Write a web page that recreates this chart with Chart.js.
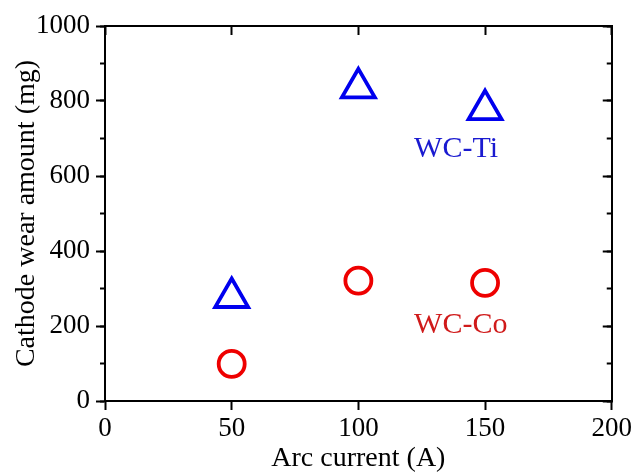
<!DOCTYPE html>
<html>
<head>
<meta charset="utf-8">
<script src="https://cdn.jsdelivr.net/npm/chart.js@4"></script>
<style>
  html, body { margin: 0; padding: 0; background: #fff; }
  #wrap { width: 635px; height: 475px; position: relative; }
</style>
</head>
<body>
<div id="wrap"><canvas id="c" width="635" height="475"></canvas></div>
<script>
// Data
const arcCurrent = [50, 100, 150];
const wcTiWear = [276, 835, 777];
const wcCoWear = [99, 321, 315];
const seriesNames = ['WC-Ti', 'WC-Co'];
// Annotation label anchors (data coordinates)
const labelX = [122, 122];
const labelY = [651, 181];

const xTicks = [0, 50, 100, 150, 200];
const yTicks = [0, 200, 400, 600, 800, 1000];

const FONT = '"Liberation Serif", "Times New Roman", serif';

const labelPlugin = {
  id: 'seriesLabels',
  afterDatasetsDraw(chart) {
    const ctx = chart.ctx;
    const xs = chart.scales.x, ys = chart.scales.y;
    const colors = ['#1a1ad0', '#d01a1a'];
    ctx.save();
    ctx.font = '30px ' + FONT;
    ctx.textAlign = 'left';
    ctx.textBaseline = 'alphabetic';
    seriesNames.forEach((n, i) => {
      ctx.fillStyle = colors[i];
      ctx.fillText(n, xs.getPixelForValue(labelX[i]), ys.getPixelForValue(labelY[i]));
    });
    ctx.restore();
  }
};

function fixW(w) { return s => { s.width = w; }; }
function fixH(h) { return s => { s.height = h; }; }

const borderOpt = { display: true, color: '#000', width: 2 };
const plain = v => String(v);

new Chart(document.getElementById('c'), {
  type: 'scatter',
  data: {
    datasets: [
      {
        label: seriesNames[0],
        data: arcCurrent.map((x, i) => ({ x, y: wcTiWear[i] })),
        pointStyle: 'triangle',
        pointRadius: 19,
        pointHoverRadius: 19,
        borderColor: '#0000ee',
        backgroundColor: 'rgba(255,255,255,0)',
        pointBorderWidth: 3.8,
        xAxisID: 'x', yAxisID: 'y'
      },
      {
        label: seriesNames[1],
        data: arcCurrent.map((x, i) => ({ x, y: wcCoWear[i] })),
        pointStyle: 'circle',
        pointRadius: 13,
        pointHoverRadius: 13,
        borderColor: '#ee0000',
        backgroundColor: 'rgba(255,255,255,0)',
        pointBorderWidth: 3.8,
        xAxisID: 'x', yAxisID: 'y'
      }
    ]
  },
  options: {
    responsive: false,
    animation: false,
    events: [],
    layout: { padding: { top: 26, right: 21, left: 0, bottom: 0 } },
    plugins: { legend: { display: false }, tooltip: { enabled: false } },
    scales: {
      x: {
        type: 'linear', position: 'bottom', min: 0, max: 200,
        afterBuildTicks: s => { s.ticks = xTicks.map(v => ({ value: v })); },
        afterFit: fixH(74),
        grid: { drawOnChartArea: false, drawTicks: true, tickLength: 9, tickWidth: 2, tickColor: '#000' },
        border: borderOpt,
        ticks: { color: '#000', padding: 3, font: { family: FONT, size: 27 }, maxRotation: 0, callback: plain },
        title: { display: true, text: 'Arc current (A)', color: '#000', font: { family: FONT, size: 28 }, padding: { top: 0, bottom: 0 } }
      },
      x2: {
        type: 'linear', position: 'top', min: 0, max: 200,
        afterBuildTicks: s => { s.ticks = xTicks.map(v => ({ value: v })); },
        afterFit: fixH(0),
        grid: { drawOnChartArea: false, drawTicks: true, tickLength: -9, tickWidth: 2, tickColor: '#000' },
        border: borderOpt,
        ticks: { display: false }
      },
      y: {
        type: 'linear', position: 'left', min: 0, max: 1000, weight: 1,
        afterBuildTicks: s => { s.ticks = yTicks.map(v => ({ value: v })); },
        afterFit: fixW(105),
        grid: { drawOnChartArea: false, drawTicks: true, tickLength: 9, tickWidth: 2, tickColor: '#000' },
        border: borderOpt,
        ticks: { color: '#000', padding: 6, font: { family: FONT, size: 27 }, callback: plain },
        title: { display: true, text: 'Cathode wear amount (mg)', color: '#000', font: { family: FONT, size: 28 }, padding: { top: 10, bottom: 0 } }
      },
      yMinor: {
        type: 'linear', position: 'left', min: 0, max: 1000, weight: 0,
        ticks: { display: false, stepSize: 100 },
        afterFit: fixW(0),
        grid: { drawOnChartArea: false, drawTicks: true, tickLength: 5, tickWidth: 2, tickColor: '#000' },
        border: { display: false }
      },
      y2: {
        type: 'linear', position: 'right', min: 0, max: 1000, weight: 1,
        afterBuildTicks: s => { s.ticks = yTicks.map(v => ({ value: v })); },
        afterFit: fixW(0),
        grid: { drawOnChartArea: false, drawTicks: true, tickLength: -9, tickWidth: 2, tickColor: '#000' },
        border: borderOpt,
        ticks: { display: false }
      },
      y2Minor: {
        type: 'linear', position: 'right', min: 0, max: 1000, weight: 0,
        ticks: { display: false, stepSize: 100 },
        afterFit: fixW(0),
        grid: { drawOnChartArea: false, drawTicks: true, tickLength: -5, tickWidth: 2, tickColor: '#000' },
        border: { display: false }
      }
    }
  },
  plugins: [labelPlugin]
});
</script>
</body>
</html>
